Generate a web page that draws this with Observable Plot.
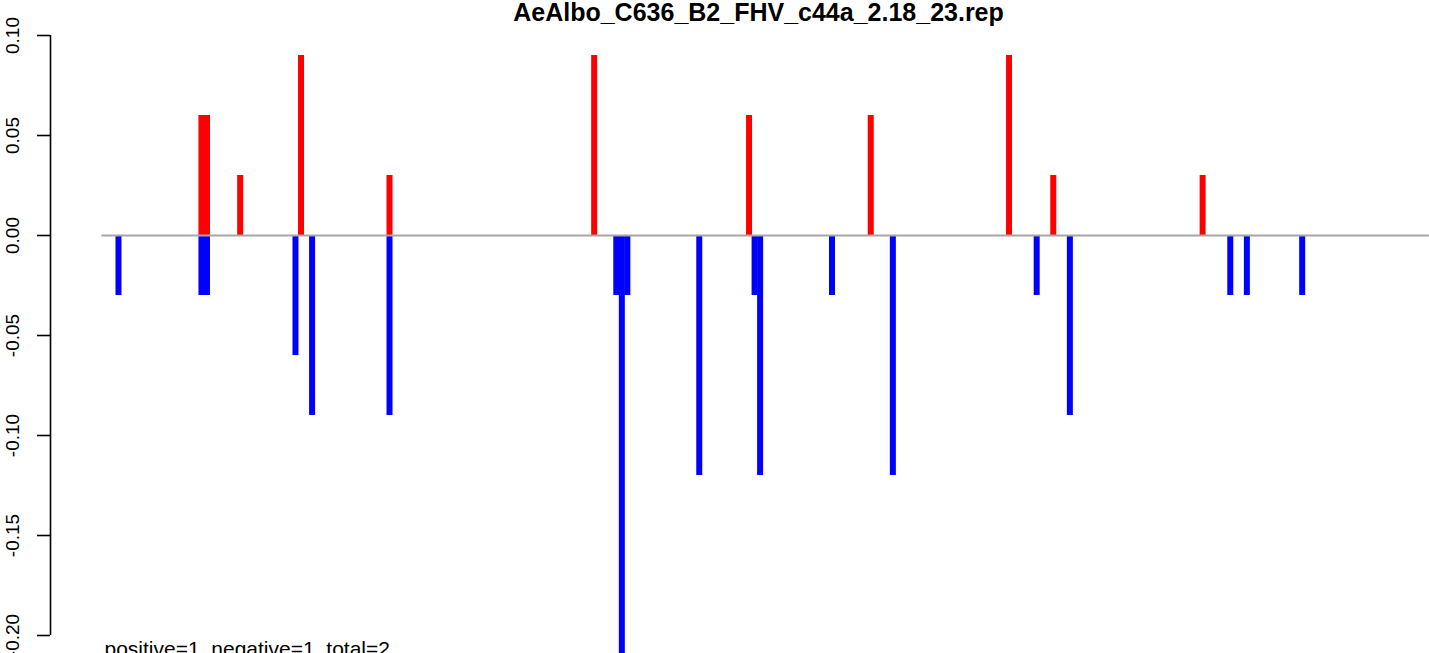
<!DOCTYPE html>
<html><head><meta charset="utf-8">
<script src="https://cdn.jsdelivr.net/npm/d3@7"></script>
<script src="https://cdn.jsdelivr.net/npm/@observablehq/plot@0.6"></script>
<style>
html,body{margin:0;padding:0;background:#fff;overflow:hidden;}
#chart{width:1429px;height:653px;overflow:hidden;}
#chart svg{max-width:none !important;width:1482px !important;height:653px !important;}
</style></head><body><div id="chart"></div>
<script>
const titleText = "AeAlbo_C636_B2_FHV_c44a_2.18_23.rep";
const footText = "positive=1, negative=1, total=2";
const seqRange = [1, 241];
const xDomain = [-8.29, 250.6];
const posPositions = [19, 20, 26, 37, 53, 90, 118, 140, 165, 173, 200];
const posValues = [0.06, 0.06, 0.03, 0.09, 0.03, 0.09, 0.06, 0.06, 0.09, 0.03, 0.03];
const negPositions = [4, 19, 20, 36, 39, 53, 94, 95, 96, 109, 119, 120, 133, 144, 170, 176, 205, 208, 218];
const negValues = [-0.03, -0.03, -0.03, -0.06, -0.09, -0.09, -0.03, -0.21, -0.03, -0.12, -0.03, -0.12, -0.03, -0.12, -0.03, -0.09, -0.03, -0.03, -0.03];
const yTicks = [-0.20, -0.15, -0.10, -0.05, 0.00, 0.05, 0.10];

const pos = posPositions.map((p, i) => ({p, v: posValues[i]}));
const neg = negPositions.map((p, i) => ({p, v: negValues[i]}));

const plot = Plot.plot({
  width: 1482, height: 653,
  marginLeft: 50, marginRight: 0, marginTop: 35, marginBottom: 18,
  style: {fontFamily: "'Liberation Sans', Arial, Helvetica, sans-serif", background: "#fff", color: "#000", maxWidth: "none"},
  x: {domain: xDomain, axis: null},
  y: {domain: [yTicks[0], yTicks[yTicks.length - 1]]},
  marks: [
    Plot.ruleX(pos, {x: "p", y1: 0, y2: "v", stroke: "#FF0000", strokeWidth: 6}),
    Plot.ruleX(neg, {x: "p", y1: 0, y2: "v", stroke: "#0000FF", strokeWidth: 6}),
    Plot.ruleY([0], {x1: seqRange[0], x2: seqRange[1], stroke: "#A6A6A6", strokeWidth: 2}),
    Plot.ruleX([xDomain[0]], {y1: yTicks[0], y2: yTicks[yTicks.length - 1], stroke: "#000", strokeWidth: 1.6}),
    Plot.axisY({ticks: yTicks, tickSize: 13, tickRotate: -90, tickPadding: 19,
      tickFormat: d => d.toFixed(2), fontSize: 19, label: null, stroke: "#000", strokeWidth: 1.6}),
    Plot.text([titleText], {text: d => d, frameAnchor: "top", dx: -8, dy: -14.5, lineAnchor: "bottom",
      fontSize: 25, fontWeight: "bold", fill: "#000"}),
    Plot.text([footText], {text: d => d, frameAnchor: "bottom-left", dx: 54, dy: 20, textAnchor: "start",
      lineAnchor: "bottom", fontSize: 21, fill: "#000"})
  ]
});
document.getElementById("chart").appendChild(plot);
</script></body></html>
